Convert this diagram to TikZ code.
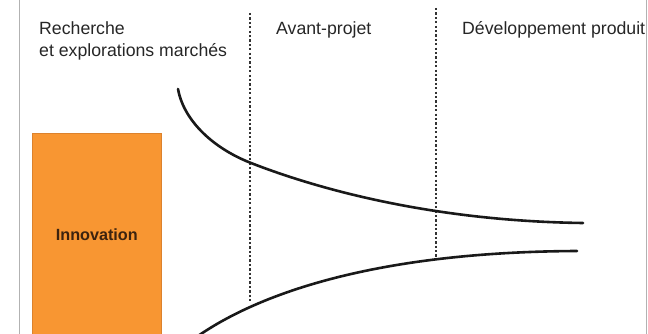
\documentclass[tikz,border=0pt]{standalone}
\usepackage{fontspec}
\setmainfont{Liberation Sans}
\begin{document}
\begin{tikzpicture}[x=1pt,y=-1pt,
  phase/.style={anchor=base west,inner sep=0pt,text=black!85,font=\fontsize{17.7}{22}\selectfont,align=left},
  frameline/.style={draw=black!30,line width=0.8pt},
  stage/.style={draw=black!80,line width=2.6pt,dash pattern=on 2.3pt off 2.1pt},
  funnel/.style={draw=black!90,line width=2.6pt,line cap=round},
  innobox/.style={fill={rgb,255:red,248;green,150;blue,50},draw={rgb,255:red,220;green,130;blue,45},line width=0.6pt}]
\useasboundingbox (0,0) rectangle (648,334);
% outer frame edges
\draw[frameline] (19,0) -- (19,334);
\draw[frameline] (646.5,0) -- (646.5,334);
% phase titles
\node[phase] (rech) at (39,35) {Recherche};
\node[phase] (expl) at (39,57) {et explorations marchés};
\node[phase] (avant) at (276,35) {Avant-projet};
\node[phase] (dev) at (462,35) {Développement produit};
% innovation block
\path[innobox] (32,133) rectangle (161.5,340);
\node[font=\bfseries\fontsize{16.2}{18}\selectfont,text={rgb,255:red,60;green,35;blue,15}] (inno) at (96.8,235) {Innovation};
% phase separators
\coordinate (s1t) at (250,13);
\coordinate (s1b) at (250,303);
\coordinate (s2t) at (436,8);
\coordinate (s2b) at (436,257);
\draw[stage] (s1t) -- (s1b);
\draw[stage] (s2t) -- (s2b);
% funnel curves
\coordinate (u0) at (178,89);
\coordinate (u1) at (251,163);
\coordinate (u2) at (583,223);
\coordinate (l0) at (198,336);
\coordinate (l1) at (577,251);
\draw[funnel] (u0) .. controls (183,118) and (210,147) .. (u1)
                   .. controls (315,188) and (430,221) .. (u2);
\draw[funnel] (l0) .. controls (250,300) and (360,252) .. (l1);
\end{tikzpicture}
\end{document}
